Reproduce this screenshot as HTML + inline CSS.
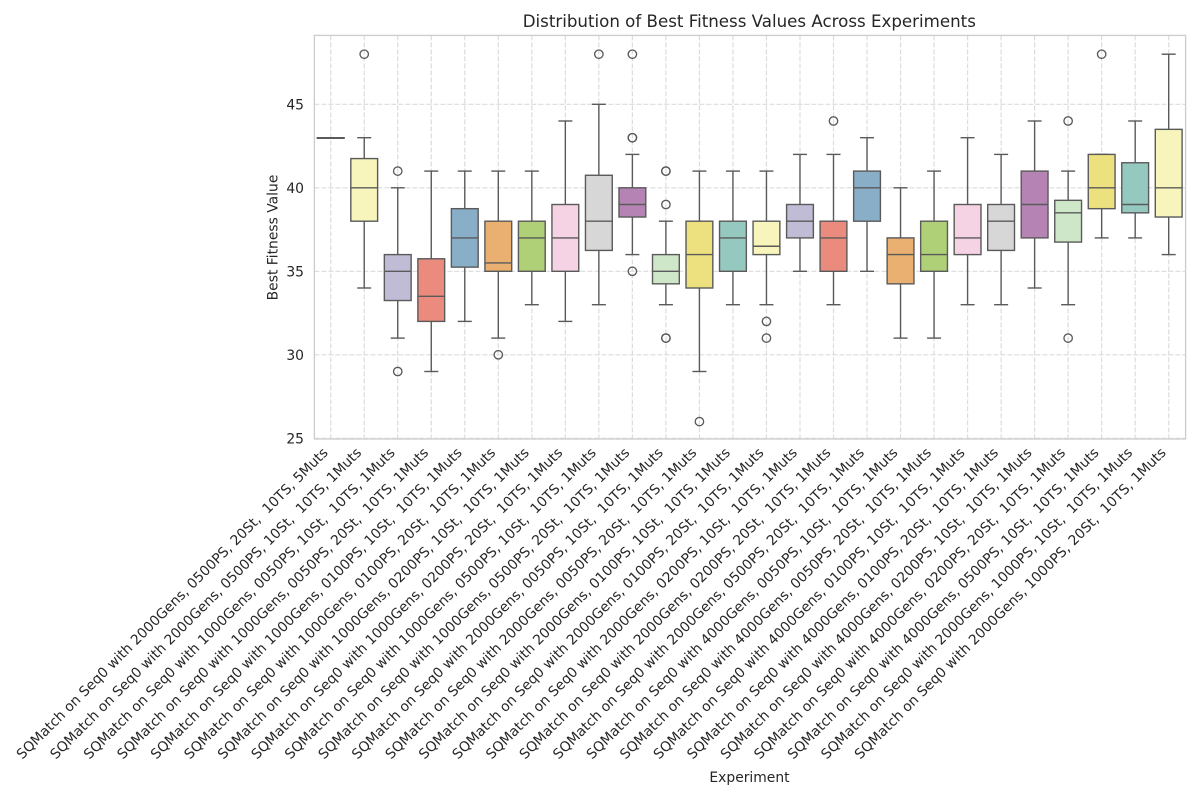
<!DOCTYPE html>
<html lang="en">
<head>
<meta charset="utf-8">
<title>Distribution of Best Fitness Values Across Experiments</title>
<style>
html,body{margin:0;padding:0;background:#fff;width:1200px;height:800px;overflow:hidden}
svg{display:block}
text{font-family:"DejaVu Sans","Liberation Sans",sans-serif;fill:#262626;white-space:pre}
</style>
</head>
<body>
<svg id="chart" xmlns="http://www.w3.org/2000/svg" width="1200" height="800" viewBox="0 0 1200 800">
<text x="749.3" y="27" font-size="16.67" text-anchor="middle">Distribution of Best Fitness Values Across Experiments</text>
<text x="749.5" y="782" font-size="13.89" text-anchor="middle">Experiment</text>
<text transform="translate(277.5 237.5) rotate(-90)" font-size="13.89" text-anchor="middle">Best Fitness Value</text>
</svg>
<script>
const experiments = [
"SQMatch on Seq0 with 2000Gens, 0500PS, 20St,  10TS, 5Muts",
"SQMatch on Seq0 with 2000Gens, 0500PS, 10St,  10TS, 1Muts",
"SQMatch on Seq0 with 1000Gens, 0050PS, 10St,  10TS, 1Muts",
"SQMatch on Seq0 with 1000Gens, 0050PS, 20St,  10TS, 1Muts",
"SQMatch on Seq0 with 1000Gens, 0100PS, 10St,  10TS, 1Muts",
"SQMatch on Seq0 with 1000Gens, 0100PS, 20St,  10TS, 1Muts",
"SQMatch on Seq0 with 1000Gens, 0200PS, 10St,  10TS, 1Muts",
"SQMatch on Seq0 with 1000Gens, 0200PS, 20St,  10TS, 1Muts",
"SQMatch on Seq0 with 1000Gens, 0500PS, 10St,  10TS, 1Muts",
"SQMatch on Seq0 with 1000Gens, 0500PS, 20St,  10TS, 1Muts",
"SQMatch on Seq0 with 2000Gens, 0050PS, 10St,  10TS, 1Muts",
"SQMatch on Seq0 with 2000Gens, 0050PS, 20St,  10TS, 1Muts",
"SQMatch on Seq0 with 2000Gens, 0100PS, 10St,  10TS, 1Muts",
"SQMatch on Seq0 with 2000Gens, 0100PS, 20St,  10TS, 1Muts",
"SQMatch on Seq0 with 2000Gens, 0200PS, 10St,  10TS, 1Muts",
"SQMatch on Seq0 with 2000Gens, 0200PS, 20St,  10TS, 1Muts",
"SQMatch on Seq0 with 2000Gens, 0500PS, 20St,  10TS, 1Muts",
"SQMatch on Seq0 with 4000Gens, 0050PS, 10St,  10TS, 1Muts",
"SQMatch on Seq0 with 4000Gens, 0050PS, 20St,  10TS, 1Muts",
"SQMatch on Seq0 with 4000Gens, 0100PS, 10St,  10TS, 1Muts",
"SQMatch on Seq0 with 4000Gens, 0100PS, 20St,  10TS, 1Muts",
"SQMatch on Seq0 with 4000Gens, 0200PS, 10St,  10TS, 1Muts",
"SQMatch on Seq0 with 4000Gens, 0200PS, 20St,  10TS, 1Muts",
"SQMatch on Seq0 with 4000Gens, 0500PS, 10St,  10TS, 1Muts",
"SQMatch on Seq0 with 2000Gens, 1000PS, 10St,  10TS, 1Muts",
"SQMatch on Seq0 with 2000Gens, 1000PS, 20St,  10TS, 1Muts"
];
const whiskerLow = [43,34,31,29,32,31,33,32,33,36,33,29,33,33,35,33,35,31,31,33,33,34,33,37,37,36];
const q1 = [43,38,33.25,32,35.25,35,35,35,36.25,38.25,34.25,34,35,36,37,35,38,34.25,35,36,36.25,37,36.75,38.75,38.5,38.25];
const medians = [43,40,35,33.5,37,35.5,37,37,38,39,35,36,37,36.5,38,37,40,36,36,37,38,39,38.5,40,39,40];
const q3 = [43,41.75,36,35.75,38.75,38,38,39,40.75,40,36,38,38,38,39,38,41,37,38,39,39,41,39.25,42,41.5,43.5];
const whiskerHigh = [43,43,40,41,41,41,41,44,45,42,38,41,41,41,42,42,43,40,41,43,42,44,41,42,44,48];
const outliers = [[],[48],[41,29],[],[],[30],[],[],[48],[48,43,43,35],[41,41,39,31,31],[26],[],[32,31],[],[44],[],[],[],[],[],[],[44,31],[48],[],[]];
const yTicks = [25,30,35,40,45];
const palette = ["#95c9c0","#f7f5bc","#c0bcd6","#eb8b7e","#89aec8","#e9b071","#afd077","#f5d2e4","#d7d7d7","#b584b4","#cfe7c9","#ede07f"];

const svg = document.getElementById('chart');
const NS = 'http://www.w3.org/2000/svg';
const plot = {left:314.4, right:1185.6, top:35.4, bottom:439};
const xScale = i => 330.7 + i * 33.52;
const yScale = v => 438.3 - (v - 25) * 16.7;
const lineColor = '#5a5a5a';
const lineWidth = 1.4;
const boxWidth = 26.8;
const capWidth = 14;

function make(tag, attrs, parent) {
  const el = document.createElementNS(NS, tag);
  for (const k in attrs) el.setAttribute(k, attrs[k]);
  (parent || svg).appendChild(el);
  return el;
}

const grid = make('g', {});


yTicks.forEach(t => {
  const gl = make('line', {x1:plot.left, x2:plot.right, y1:yScale(t), y2:yScale(t), stroke:'#dcdcdc', 'stroke-width':1.2, 'stroke-dasharray':'5 2'}, grid);
  
  
});
experiments.forEach((e, i) => {
  const gl = make('line', {x1:xScale(i), x2:xScale(i), y1:plot.top, y2:plot.bottom, stroke:'#dcdcdc', 'stroke-width':1.2, 'stroke-dasharray':'5 2'}, grid);
  
  
});

const frame = make('rect', {x:plot.left, y:plot.top, width:plot.right - plot.left, height:plot.bottom - plot.top, fill:'none', stroke:'#cccccc', 'stroke-width':1.3});



yTicks.forEach(t => {
  const lab = make('text', {x:304, y:yScale(t) + 5, 'font-size':13.89, 'text-anchor':'end'});
  lab.textContent = String(t);
  
  
});

experiments.forEach((label, i) => {
  const cx = xScale(i);
  const g = make('g', {});
  
  
  const style = {stroke:lineColor, 'stroke-width':lineWidth, fill:'none'};
  make('line', {x1:cx, x2:cx, y1:yScale(q3[i]), y2:yScale(whiskerHigh[i]), ...style}, g);
  make('line', {x1:cx, x2:cx, y1:yScale(q1[i]), y2:yScale(whiskerLow[i]), ...style}, g);
  make('line', {x1:cx - capWidth / 2, x2:cx + capWidth / 2, y1:yScale(whiskerHigh[i]), y2:yScale(whiskerHigh[i]), ...style}, g);
  make('line', {x1:cx - capWidth / 2, x2:cx + capWidth / 2, y1:yScale(whiskerLow[i]), y2:yScale(whiskerLow[i]), ...style}, g);
  make('rect', {x:cx - boxWidth / 2, y:yScale(q3[i]), width:boxWidth, height:Math.max(yScale(q1[i]) - yScale(q3[i]), 0.6), fill:palette[i % palette.length], stroke:lineColor, 'stroke-width':lineWidth}, g);
  make('line', {x1:cx - boxWidth / 2, x2:cx + boxWidth / 2, y1:yScale(medians[i]), y2:yScale(medians[i]), ...style}, g);
  outliers[i].forEach(v => {
    const c = make('circle', {cx:cx, cy:yScale(v), r:4.2, fill:'none', stroke:lineColor, 'stroke-width':1.35}, g);
    
    
  });
  const lab = make('text', {transform:'translate(' + (cx - 2) + ' 453.5) rotate(-45)', 'font-size':13.89, 'text-anchor':'end'});
  lab.textContent = label;
  
  
});
</script>
</body>
</html>
